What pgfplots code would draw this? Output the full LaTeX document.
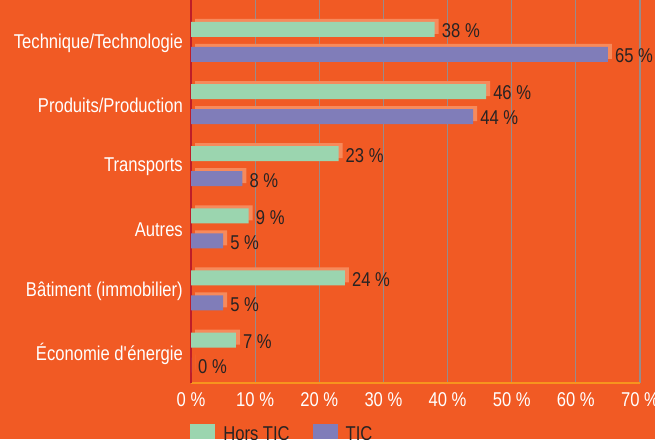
\documentclass[border=0pt]{standalone}
\usepackage{pgfplots}
\usepackage{pgfplotstable}
\pgfplotsset{compat=1.18}
\usepackage{fontspec}
\setmainfont{Liberation Sans}[FakeStretch=0.83]
\newcommand{\fs}{\fontsize{20}{23}\selectfont}
\definecolor{bgor}{RGB}{241,90,36}
\definecolor{shadowc}{RGB}{246,138,92}
\definecolor{greenc}{RGB}{155,213,175}
\definecolor{purplec}{RGB}{128,125,185}
\definecolor{gridgray}{RGB}{150,140,140}
\definecolor{axred}{RGB}{190,30,40}
\definecolor{bottomor}{RGB}{247,148,30}
\definecolor{valc}{RGB}{40,35,35}

\pgfplotstableread{
y hors tic
5 38 65
4 46 44
3 23 8
2 9 5
1 24 5
0 7 0
}\data

\begin{document}
\begin{tikzpicture}
\useasboundingbox (0,0) rectangle (655pt,439pt);
\clip (0,0) rectangle (655pt,439pt);
\fill[bgor] (0,0) rectangle (655pt,439pt);
\begin{axis}[
  at={(191pt,56pt)}, anchor=south west,
  scale only axis, width=449pt, height=383pt,
  xmin=0, xmax=70, ymin=-0.491, ymax=5.676, enlargelimits=false,
  xbar, bar width=15pt,
  axis x line*=bottom, axis y line*=left,
  x axis line style={-, draw=bottomor, line width=1.5pt},
  y axis line style={-, draw=axred, line width=1.5pt},
  xtick={0,10,...,70},
  xticklabels={0 \%,10 \%,20 \%,30 \%,40 \%,50 \%,60 \%,70 \%},
  ytick={0,...,5},
  yticklabels={\'Economie d\textquotesingle\'energie, B\^atiment (immobilier), Autres, Transports, Produits/Production, Technique/Technologie},
  xmajorgrids, grid style={gridgray, line width=1.2pt},
  major tick length=0pt,
  tick label style={font=\fs, text=white},
  xticklabel style={inner sep=0pt, anchor=north, yshift=-9pt},
  yticklabel style={inner sep=0pt, anchor=east, xshift=-8pt, yshift=-1pt},
  legend style={at={(-0.002,-0.107)}, anchor=north west, draw=none, fill=none,
    font=\fs, text=valc, inner sep=0pt, legend columns=2,
    column sep=8pt,
    /tikz/every even column/.append style={column sep=23pt},
    nodes={inner sep=0pt, anchor=west, yshift=-3pt}},
  legend image code/.code={\fill[#1,draw=none] (0pt,-7.5pt) rectangle (25pt,7.5pt);},
  every node near coord/.append style={anchor=west, inner sep=0pt, xshift=7pt, yshift=-1.5pt, text=valc, font=\fs},
]
\addplot[forget plot, fill=shadowc, draw=none, bar shift=12.5pt, xshift=4pt, yshift=3pt] table[x=hors,y=y]{\data};
\addplot[forget plot, fill=shadowc, draw=none, bar shift=-12.5pt, xshift=4pt, yshift=3pt] table[x=tic,y=y]{\data};
\addplot[fill=greenc, draw=none, bar shift=12.5pt,
  nodes near coords={\pgfmathprintnumber[assume math mode=true]{\pgfplotspointmeta}~\%}] table[x=hors,y=y]{\data};
\addplot[fill=purplec, draw=none, bar shift=-12.5pt,
  nodes near coords={\pgfmathprintnumber[assume math mode=true]{\pgfplotspointmeta}~\%}] table[x=tic,y=y]{\data};
\legend{Hors TIC, TIC}
\end{axis}
\end{tikzpicture}
\end{document}
